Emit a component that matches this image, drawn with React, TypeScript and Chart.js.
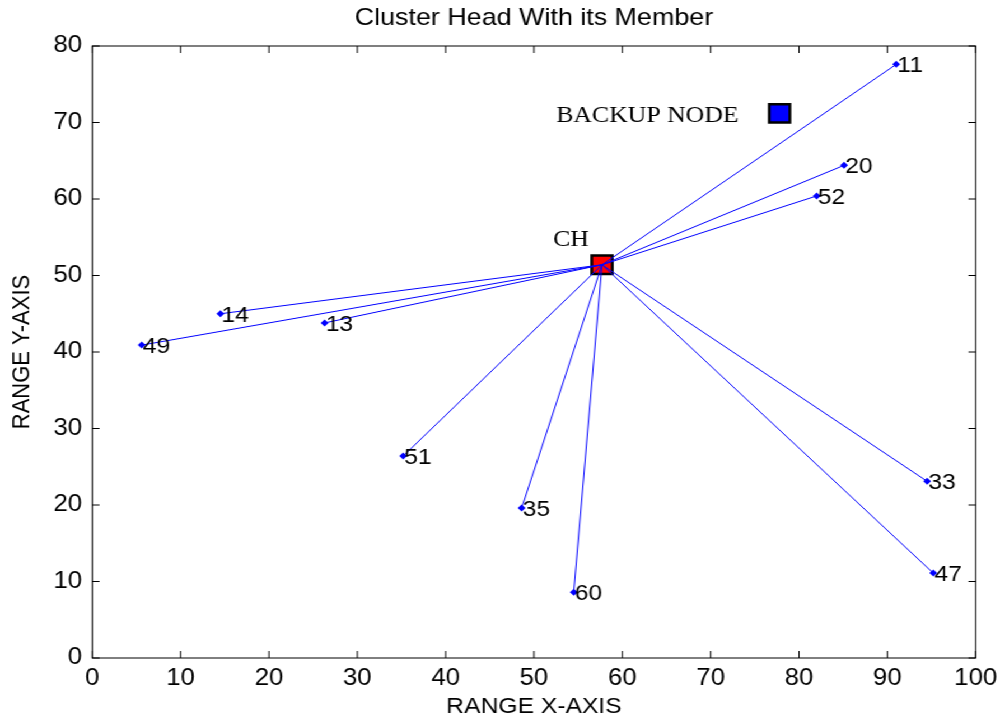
import { useEffect, useRef } from "react";
import { Chart, registerables } from "chart.js";

Chart.register(...registerables);

// Canvas is drawn narrower and stretched horizontally to the page width.
const CANVAS_W = 893;
const CANVAS_H = 721;
const STRETCH = 1000 / CANVAS_W;

const chartTitle = "Cluster Head With its Member";
const xAxisTitle = "RANGE X-AXIS";
const yAxisTitle = "RANGE Y-AXIS";

const xTicks = [0, 10, 20, 30, 40, 50, 60, 70, 80, 90, 100];
const yTicks = [0, 10, 20, 30, 40, 50, 60, 70, 80];

// Cluster head and backup node
const headLabel = "CH";
const headX = 57.7;
const headY = 51.4;
const backupLabel = "BACKUP NODE";
const backupX = 77.8;
const backupY = 71.2;

// Member nodes
const memberIds = [11, 20, 52, 14, 13, 49, 51, 35, 60, 33, 47];
const memberX = [91.0, 85.1, 82.0, 14.5, 26.3, 5.6, 35.2, 48.6, 54.5, 94.5, 95.2];
const memberY = [77.6, 64.4, 60.4, 45.0, 43.8, 40.9, 26.4, 19.6, 8.6, 23.1, 11.1];

const SANS = '"Liberation Sans", Arial, Helvetica, sans-serif';
const SERIF = '"Liberation Serif", "Times New Roman", serif';

const frameAndLabels = {
  id: "frameAndLabels",
  afterDatasetsDraw(chart: any) {
    const { ctx, chartArea, scales } = chart;
    const { left, right, top, bottom } = chartArea;
    const xs = scales.x;
    const ys = scales.y;
    ctx.save();

    // Box frame with inward ticks on all four sides
    ctx.strokeStyle = "#000";
    ctx.lineWidth = 1;
    ctx.strokeRect(left, top, right - left, bottom - top);
    ctx.beginPath();
    xTicks.forEach((v) => {
      const px = xs.getPixelForValue(v);
      ctx.moveTo(px, bottom);
      ctx.lineTo(px, bottom - 7);
      ctx.moveTo(px, top);
      ctx.lineTo(px, top + 7);
    });
    yTicks.forEach((v) => {
      const py = ys.getPixelForValue(v);
      ctx.moveTo(left, py);
      ctx.lineTo(left + 6.5, py);
      ctx.moveTo(right, py);
      ctx.lineTo(right - 6.5, py);
    });
    ctx.stroke();

    // Member id labels
    ctx.fillStyle = "#000";
    ctx.font = `22px ${SANS}`;
    ctx.textAlign = "left";
    ctx.textBaseline = "alphabetic";
    memberIds.forEach((id, i) => {
      ctx.fillText(
        String(id),
        xs.getPixelForValue(memberX[i]) + 1,
        ys.getPixelForValue(memberY[i]) + 8
      );
    });

    // Node annotations
    ctx.font = `23px ${SERIF}`;
    ctx.fillText(headLabel, xs.getPixelForValue(headX) - 43.7, ys.getPixelForValue(headY) - 19);
    ctx.textAlign = "right";
    ctx.fillText(backupLabel, xs.getPixelForValue(backupX) - 36.6, ys.getPixelForValue(backupY) + 8.5);

    ctx.restore();
  },
};

export default function App() {
  const canvasRef = useRef<HTMLCanvasElement | null>(null);

  useEffect(() => {
    const canvas = canvasRef.current;
    if (!canvas) return;

    const linkSets = memberIds.map((id, i) => ({
      label: `CH-${id}`,
      data: [
        { x: headX, y: headY },
        { x: memberX[i], y: memberY[i] },
      ],
      showLine: true,
      borderColor: "#0000ff",
      borderWidth: 1,
      pointRadius: [0, 3.5],
      pointStyle: "rectRot",
      pointBackgroundColor: "#0000ff",
      pointBorderColor: "#0000ff",
      pointBorderWidth: 0,
      order: 0,
    }));

    const chart = new Chart(canvas, {
      type: "scatter",
      data: {
        datasets: [
          ...linkSets,
          {
            label: headLabel,
            data: [{ x: headX, y: headY }],
            pointStyle: "rect",
            pointRadius: 13,
            pointBackgroundColor: "#ff0000",
            pointBorderColor: "#000",
            pointBorderWidth: 2.5,
            order: 1,
          },
          {
            label: backupLabel,
            data: [{ x: backupX, y: backupY }],
            pointStyle: "rect",
            pointRadius: 13,
            pointBackgroundColor: "#0000ff",
            pointBorderColor: "#000",
            pointBorderWidth: 2.5,
            order: 1,
          },
        ] as any,
      },
      options: {
        responsive: false,
        animation: false,
        devicePixelRatio: 1,
        layout: { padding: { left: 0, right: 21.7, top: 0, bottom: 0 } },
        plugins: {
          legend: { display: false },
          tooltip: { enabled: false },
          title: {
            display: true,
            text: chartTitle,
            fullSize: false,
            color: "#000",
            font: { family: SANS, size: 24, weight: "normal" },
            padding: { top: 4, bottom: 13.2 },
          },
        },
        scales: {
          x: {
            type: "linear",
            min: 0,
            max: 100,
            afterBuildTicks: (s: any) => {
              s.ticks = xTicks.map((v) => ({ value: v }));
            },
            afterFit: (s: any) => {
              s.height = 63;
              s.paddingLeft = 0;
              s.paddingRight = 0;
            },
            ticks: {
              padding: 7,
              color: "#000",
              maxRotation: 0,
              autoSkip: false,
              font: { family: SANS, size: 23 },
            },
            grid: { display: false, drawTicks: false },
            border: { display: false },
            title: {
              display: true,
              text: xAxisTitle,
              color: "#000",
              font: { family: SANS, size: 22 },
              padding: { top: 0, bottom: 1 },
            },
          },
          y: {
            type: "linear",
            min: 0,
            max: 80,
            afterBuildTicks: (s: any) => {
              s.ticks = yTicks.map((v) => ({ value: v }));
            },
            afterFit: (s: any) => {
              s.width = 82.4;
              s.paddingTop = 0;
              s.paddingBottom = 0;
            },
            ticks: {
              padding: 9,
              color: "#000",
              autoSkip: false,
              font: { family: SANS, size: 23 },
            },
            grid: { display: false, drawTicks: false },
            border: { display: false },
            title: {
              display: true,
              text: yAxisTitle,
              color: "#000",
              font: { family: SANS, size: 22 },
              padding: { top: 6.4, bottom: 0 },
            },
          },
        },
      } as any,
      plugins: [frameAndLabels],
    });

    return () => chart.destroy();
  }, []);

  return (
    <div
      style={{
        position: "fixed",
        left: 0,
        top: 0,
        width: CANVAS_W,
        height: CANVAS_H,
        background: "#fff",
        transform: `scaleX(${STRETCH})`,
        transformOrigin: "0 0",
      }}
    >
      <canvas
        ref={canvasRef}
        width={CANVAS_W}
        height={CANVAS_H}
        style={{ display: "block", width: CANVAS_W, height: CANVAS_H }}
      />
    </div>
  );
}
